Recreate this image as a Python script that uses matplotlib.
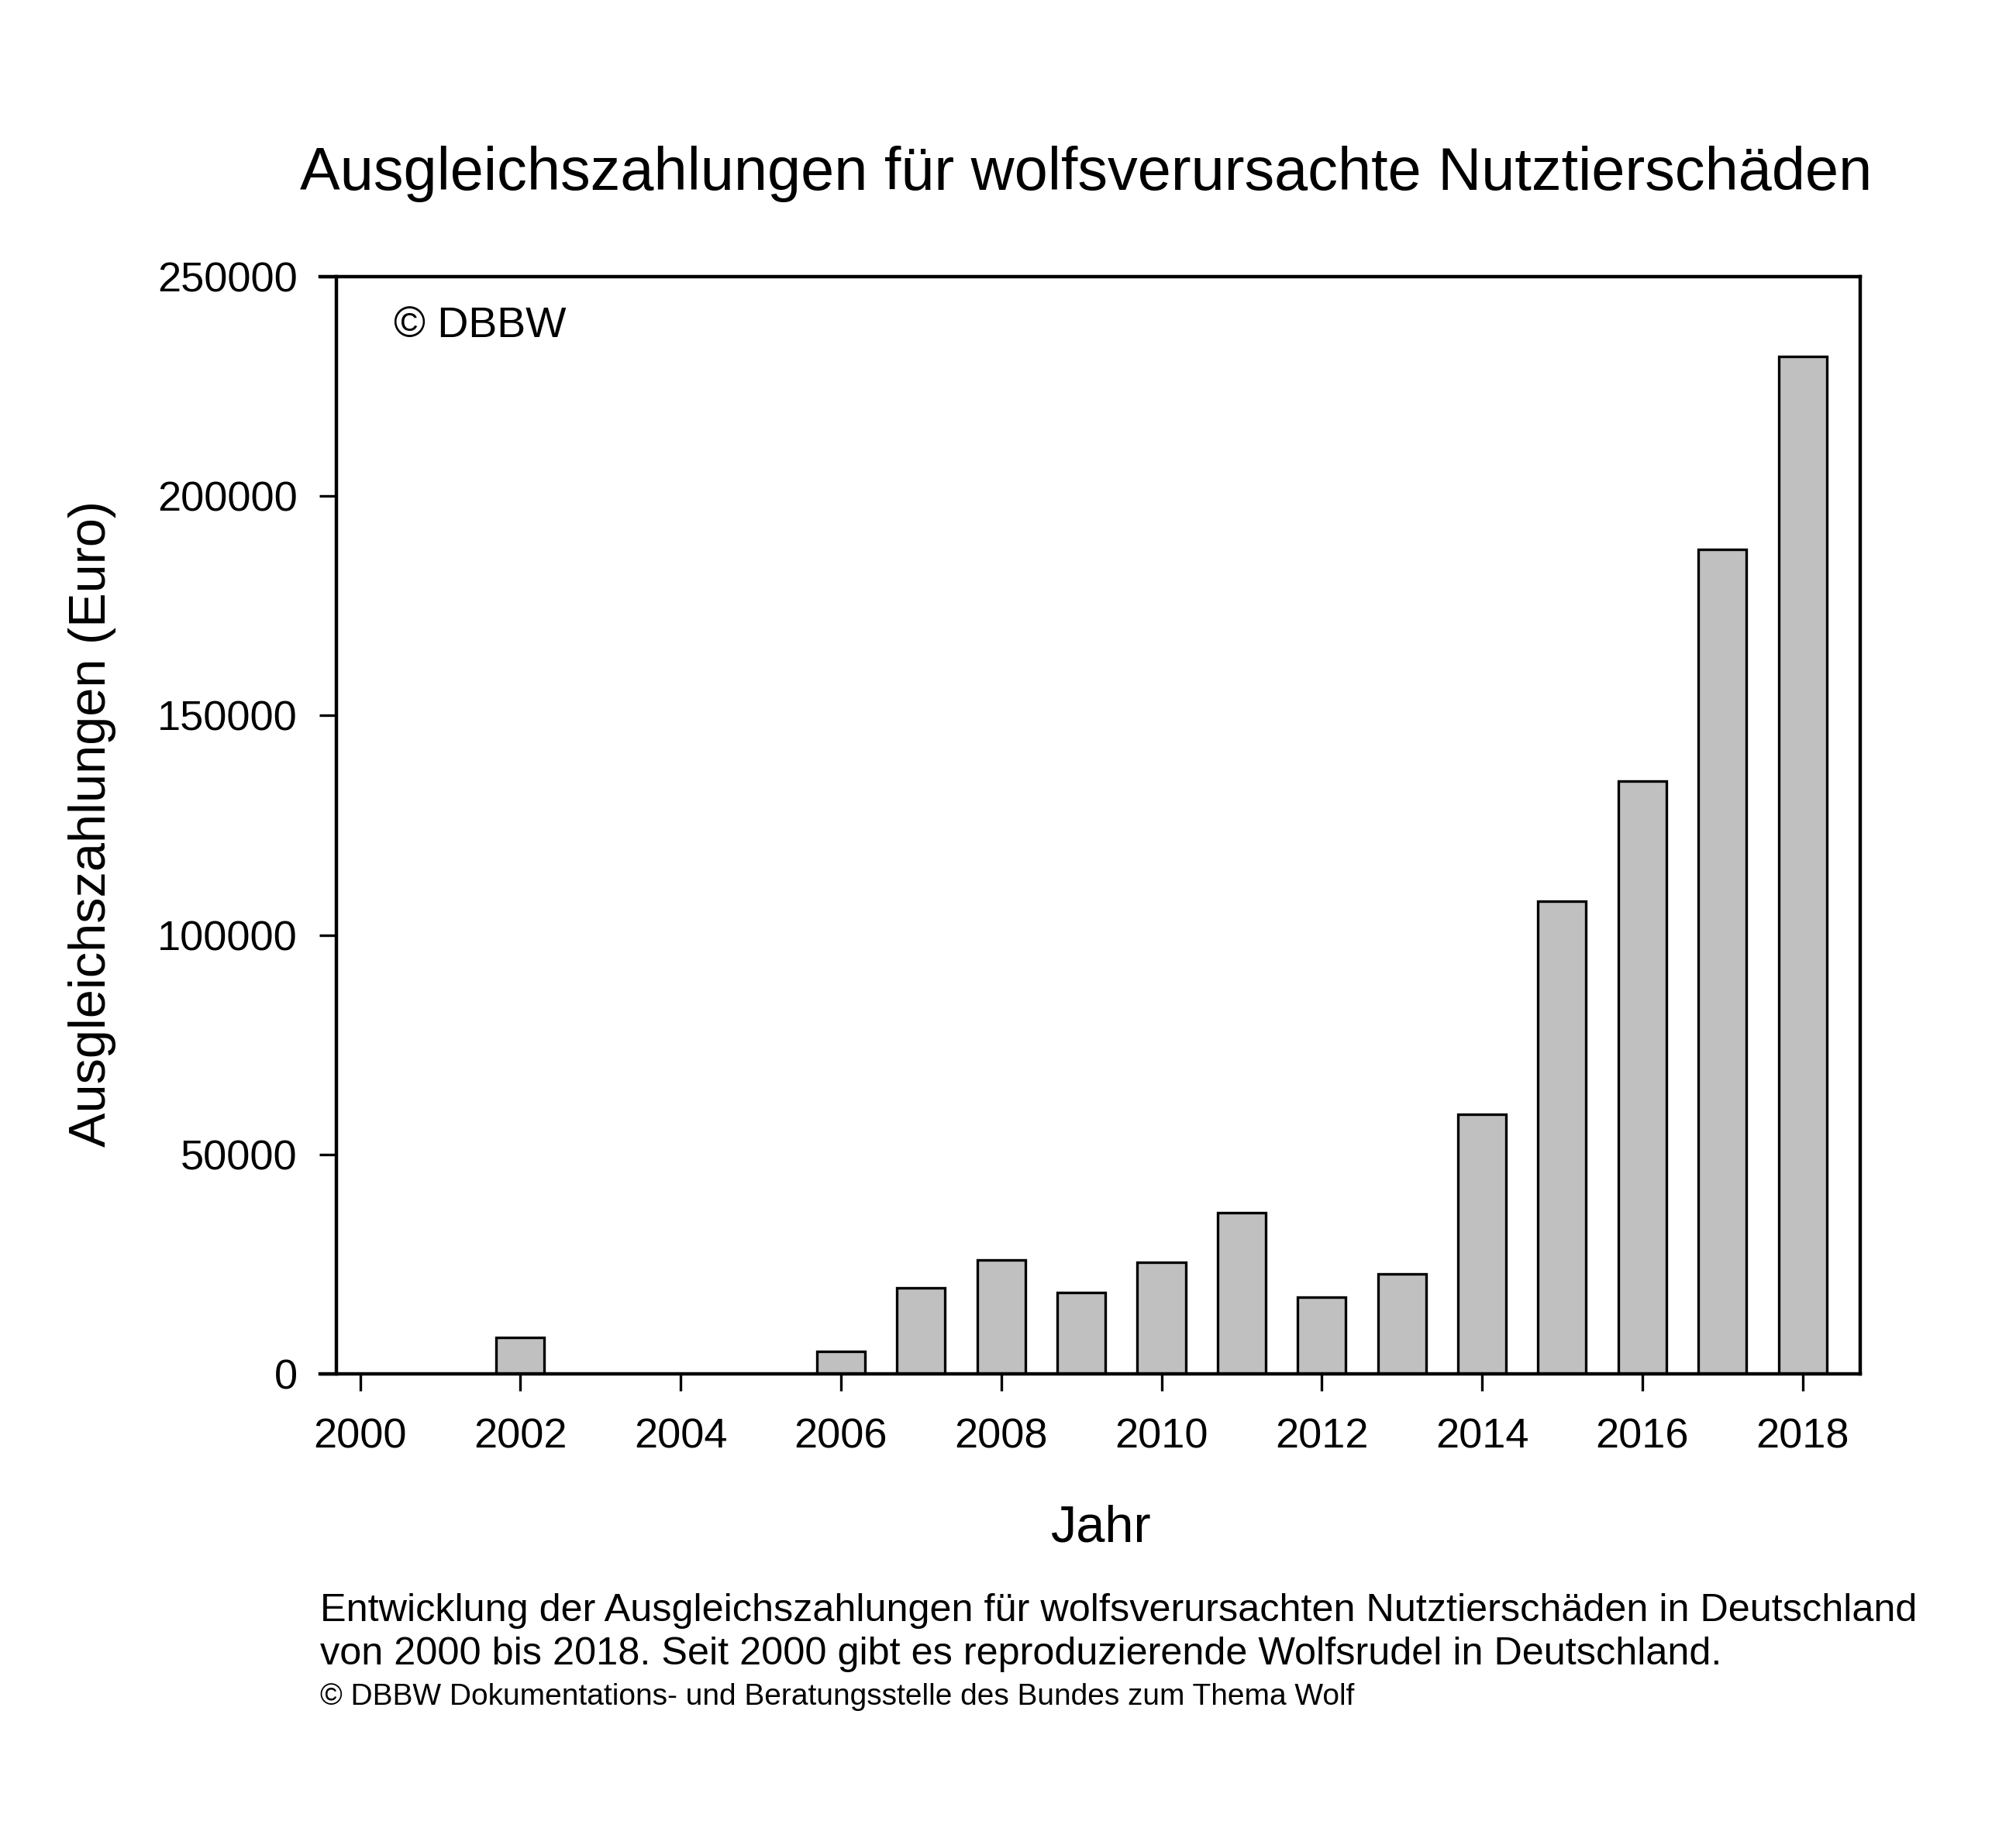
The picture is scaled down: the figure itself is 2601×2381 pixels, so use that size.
import matplotlib.pyplot as plt
import numpy as np

plt.rcParams['font.family'] = ['Liberation Sans', 'DejaVu Sans']

years = list(range(2000, 2019))
payments = [0, 0, 8300, 0, 0, 0, 5200, 19600, 25900, 18500, 25500,
            36700, 17500, 22700, 59100, 107700, 135100, 187900, 231800]
x_ticks = list(range(2000, 2019, 2))
y_ticks = [0, 50000, 100000, 150000, 200000, 250000]

title = "Ausgleichszahlungen für wolfsverursachte Nutztierschäden"
caption1 = "Entwicklung der Ausgleichszahlungen für wolfsverursachten Nutztierschäden in Deutschland"
caption2 = "von 2000 bis 2018. Seit 2000 gibt es reproduzierende Wolfsrudel in Deutschland."
caption3 = "© DBBW Dokumentations- und Beratungsstelle des Bundes zum Thema Wolf"

W, H = 2601, 2381
fig = plt.figure(figsize=(W / 100, H / 100), dpi=100)
# frame runs from x=413 to 2400 px, y axis line sits a bit inside at 433 px
ax = fig.add_axes([413 / W, 1 - 1773 / H, (2400 - 413) / W, (1773 - 357) / H])

ax.bar(years, payments, width=0.6, color='#c0c0c0', edgecolor='black', linewidth=2.4)

ax.set_xlim(1999.5, 2018.72)
ax.set_ylim(0, 250000)
ax.spines['left'].set_position(('data', 1999.7))
ax.set_xticks(x_ticks)
ax.set_yticks(y_ticks)
ax.tick_params(direction='out', length=16, width=2.4, labelsize=39, pad=20)
ax.tick_params(axis='x', pad=25)
for s in ax.spines.values():
    s.set_linewidth(3.2)

ax.text(0.0476, 0.955, "© DBBW", transform=ax.transAxes, fontsize=40, va='center', ha='left')

fig.text(1401 / W, 1 - 245 / H, title, fontsize=55.8, ha='center', va='baseline')
fig.text(1420 / W, 1 - 1972 / H, "Jahr", fontsize=48, ha='center', va='center')
fig.text(119 / W, 1 - 1063 / H, "Ausgleichszahlungen (Euro)", fontsize=48,
         ha='center', va='center', rotation=90)

fig.text(413 / W, 1 - 2079 / H, caption1, fontsize=36.3, ha='left', va='center')
fig.text(413 / W, 1 - 2135 / H, caption2, fontsize=36.3, ha='left', va='center')
fig.text(413 / W, 1 - 2190 / H, caption3, fontsize=28, ha='left', va='center')

fig.savefig("out.png", dpi=100, facecolor='white')
